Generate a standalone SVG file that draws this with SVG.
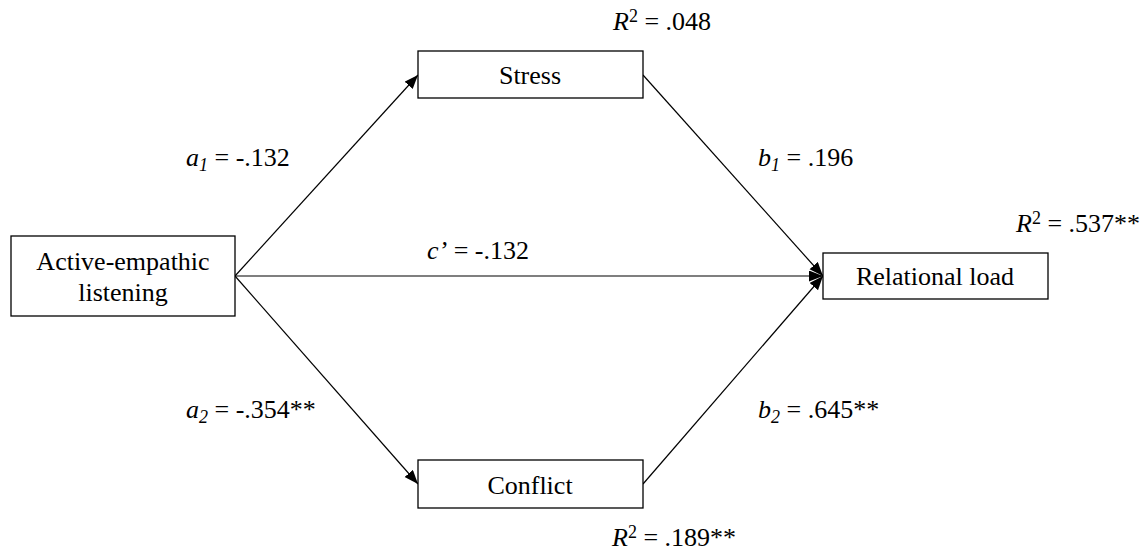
<svg xmlns="http://www.w3.org/2000/svg" width="1145" height="554" viewBox="0 0 1145 554">
  <style>
    .box { fill: #ffffff; stroke: #000000; stroke-width: 1.3; }
    .lbl { font-family: "Liberation Serif", "Times New Roman", serif; font-size: 26px; fill: #000000; }
    .mid { text-anchor: middle; }
    .it { font-style: italic; }
    .path { stroke: #000000; stroke-width: 1.2; fill: none; marker-end: url(#arrow); }
  </style>
  <defs>
    <marker id="arrow" markerUnits="userSpaceOnUse" markerWidth="15" markerHeight="12" refX="14" refY="5.5" orient="auto">
      <path d="M0,0 L14,5.5 L0,11 z" fill="#000000"/>
    </marker>
  </defs>

  <rect width="1145" height="554" fill="#ffffff"/>

  <!-- paths between variables -->
  <g id="connectors">
    <line class="path" x1="235" y1="276" x2="418" y2="75"/>
    <line class="path" x1="235" y1="276" x2="418" y2="484"/>
    <line class="path" x1="235" y1="276" x2="823" y2="276"/>
    <line class="path" x1="643" y1="75" x2="823" y2="276"/>
    <line class="path" x1="643" y1="484" x2="823" y2="276"/>
  </g>

  <!-- path coefficients -->
  <g id="coefficients" class="lbl">
    <text x="186" y="166"><tspan class="it">a</tspan><tspan class="it" font-size="18" dy="5">1</tspan><tspan dy="-5"> = -.132</tspan></text>
    <text x="186" y="418"><tspan class="it">a</tspan><tspan class="it" font-size="18" dy="5">2</tspan><tspan dy="-5"> = -.354**</tspan></text>
    <text x="758" y="166"><tspan class="it">b</tspan><tspan class="it" font-size="18" dy="5">1</tspan><tspan dy="-5"> = .196</tspan></text>
    <text x="758" y="418"><tspan class="it">b</tspan><tspan class="it" font-size="18" dy="5">2</tspan><tspan dy="-5"> = .645**</tspan></text>
    <text x="427" y="259"><tspan class="it">c’</tspan> = -.132</text>
  </g>

  <g id="node-ael">
    <rect class="box" x="11" y="236" width="224" height="80"/>
    <text class="lbl mid" x="123" y="270">Active-empathic</text>
    <text class="lbl mid" x="123" y="301">listening</text>
  </g>

  <g id="node-stress">
    <rect class="box" x="418" y="51" width="225" height="47"/>
    <text class="lbl mid" x="530" y="84">Stress</text>
    <text class="lbl" x="613" y="30"><tspan class="it">R</tspan><tspan font-size="18" dy="-8">2</tspan><tspan dy="8"> = .048</tspan></text>
  </g>

  <g id="node-conflict">
    <rect class="box" x="418" y="460" width="225" height="48"/>
    <text class="lbl mid" x="530" y="494">Conflict</text>
    <text class="lbl" x="612" y="546"><tspan class="it">R</tspan><tspan font-size="18" dy="-8">2</tspan><tspan dy="8"> = .189**</tspan></text>
  </g>

  <g id="node-load">
    <rect class="box" x="823" y="253" width="225" height="46"/>
    <text class="lbl mid" x="935" y="285">Relational load</text>
    <text class="lbl" x="1016" y="232"><tspan class="it">R</tspan><tspan font-size="18" dy="-8">2</tspan><tspan dy="8"> = .537**</tspan></text>
  </g>
</svg>
